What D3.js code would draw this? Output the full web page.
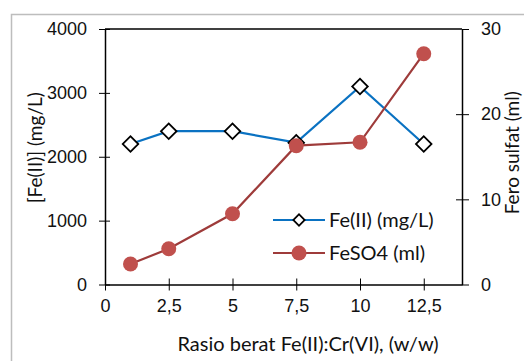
<!DOCTYPE html>
<html>
<head>
<meta charset="utf-8">
<script src="https://cdn.jsdelivr.net/npm/d3@7"></script>
<style>
  body { margin: 0; background: #fff; }
  svg { display: block; font-family: Lato, "Open Sans", sans-serif; }
</style>
</head>
<body>
<svg id="chart" width="524" height="361"></svg>
<script>
var ratios = [1, 2.5, 5, 7.5, 10, 12.5];
var feII = [2200, 2400, 2400, 2220, 3100, 2200];   // mg/L, left axis
var feso4 = [2.4, 4.2, 8.3, 16.3, 16.7, 27.1];     // ml, right axis
var xTicks = [0, 2.5, 5, 7.5, 10, 12.5];
var yLeftTicks = [0, 1000, 2000, 3000, 4000];
var yRightTicks = [0, 10, 20, 30];
var seriesNames = ["Fe(II) (mg/L)", "FeSO4 (ml)"];

var svg = d3.select("#chart");

// plot area edges (avoid "top", it clashes with window.top)
var pLeft = 105, pRight = 462, pTop = 29, pBottom = 284.5;

// decimal comma, like the original
var locale = d3.formatLocale({decimal: ",", thousands: "", grouping: [3], currency: ["", ""]});
var fmt = locale.format("~g");

var x = d3.scaleLinear().domain([0, 14]).range([pLeft, pRight]);
var yL = d3.scaleLinear().domain([0, 4000]).range([pBottom, pTop]);
var yR = d3.scaleLinear().domain([0, 30]).range([pBottom, pTop]);

// outer grey frame
svg.append("rect")
  .attr("x", 11.5).attr("y", 14.5)
  .attr("width", 530).attr("height", 360)
  .attr("fill", "none")
  .attr("stroke", "#bdbdbd")
  .attr("stroke-width", 1.5);

// top border of plot area
svg.append("line")
  .attr("x1", pLeft).attr("x2", pRight)
  .attr("y1", pTop).attr("y2", pTop)
  .attr("stroke", "#000").attr("stroke-width", 1.5);

function styleAxis(g) {
  g.select(".domain").attr("stroke", "#000").attr("stroke-width", 1.5);
  g.selectAll(".tick line").attr("stroke", "#000").attr("stroke-width", 1);
  g.selectAll(".tick text").attr("fill", "#111").style("font-size", "18px");
}

var gx = svg.append("g")
  .attr("transform", "translate(0," + pBottom + ")")
  .call(d3.axisBottom(x).tickValues(xTicks).tickFormat(fmt).tickSizeInner(6).tickSizeOuter(0).tickPadding(9));
gx.selectAll(".tick line").attr("y1", -6);
styleAxis(gx);

var gl = svg.append("g")
  .attr("transform", "translate(" + pLeft + ",0)")
  .call(d3.axisLeft(yL).tickValues(yLeftTicks).tickFormat(d3.format("d")).tickSizeInner(6).tickSizeOuter(0).tickPadding(12));
gl.selectAll(".tick line").attr("x1", 5);
styleAxis(gl);

var gr = svg.append("g")
  .attr("transform", "translate(" + pRight + ",0)")
  .call(d3.axisRight(yR).tickValues(yRightTicks).tickFormat(d3.format("d")).tickSizeInner(7).tickSizeOuter(0).tickPadding(12));
gr.selectAll(".tick line").attr("x1", function(d) { return (d === 0 || d === 30) ? 0 : -6; });
styleAxis(gr);

// axis titles
svg.append("text")
  .attr("transform", "translate(42," + ((pTop + pBottom) / 2 - 9) + ") rotate(-90)")
  .attr("text-anchor", "middle")
  .style("font-size", "19px").attr("fill", "#111")
  .text("[Fe(II)] (mg/L)");

svg.append("text")
  .attr("transform", "translate(519," + ((pTop + pBottom) / 2 - 4) + ") rotate(-90)")
  .attr("text-anchor", "middle")
  .style("font-size", "19px").attr("fill", "#111")
  .text("Fero sulfat (ml)");

svg.append("text")
  .attr("x", 308).attr("y", 351)
  .attr("text-anchor", "middle")
  .style("font-size", "20px").attr("fill", "#111")
  .text("Rasio berat Fe(II):Cr(VI), (w/w)");

var blue = "#0a72c2", red = "#9e3b3a", redFill = "#c0504d";

var lineL = d3.line().x(function(d, i) { return x(ratios[i]); }).y(function(d) { return yL(d); });
var lineR = d3.line().x(function(d, i) { return x(ratios[i]); }).y(function(d) { return yR(d); });

svg.append("path").datum(feII)
  .attr("d", lineL).attr("fill", "none")
  .attr("stroke", blue).attr("stroke-width", 2.2);

svg.selectAll("rect.dia").data(feII).enter()
  .append("rect")
  .attr("class", "dia")
  .attr("x", -5.5).attr("y", -5.5).attr("width", 11).attr("height", 11)
  .attr("transform", function(d, i) { return "translate(" + x(ratios[i]) + "," + yL(d) + ") rotate(45)"; })
  .attr("fill", "#fff").attr("stroke", "#000").attr("stroke-width", 1.8);

svg.append("path").datum(feso4)
  .attr("d", lineR).attr("fill", "none")
  .attr("stroke", red).attr("stroke-width", 2.2);

svg.selectAll("circle.fs").data(feso4).enter()
  .append("circle")
  .attr("class", "fs")
  .attr("cx", function(d, i) { return x(ratios[i]); })
  .attr("cy", function(d) { return yR(d); })
  .attr("r", 7.5)
  .attr("fill", redFill);

// legend
var lg = svg.append("g").attr("transform", "translate(273,220)");
lg.append("line").attr("x1", 0).attr("x2", 52).attr("y1", 0).attr("y2", 0)
  .attr("stroke", blue).attr("stroke-width", 2.2);
lg.append("rect").attr("x", -4).attr("y", -4).attr("width", 8).attr("height", 8)
  .attr("transform", "translate(26,0) rotate(45)")
  .attr("fill", "#fff").attr("stroke", "#000").attr("stroke-width", 1.8);
lg.append("text").attr("x", 56).attr("y", 7)
  .style("font-size", "20px").attr("fill", "#111").text(seriesNames[0]);

lg.append("line").attr("x1", 0).attr("x2", 52).attr("y1", 33).attr("y2", 33)
  .attr("stroke", red).attr("stroke-width", 2.2);
lg.append("circle").attr("cx", 26).attr("cy", 33).attr("r", 7.5).attr("fill", redFill);
lg.append("text").attr("x", 56).attr("y", 40)
  .style("font-size", "20px").attr("fill", "#111").text(seriesNames[1]);
</script>
</body>
</html>
